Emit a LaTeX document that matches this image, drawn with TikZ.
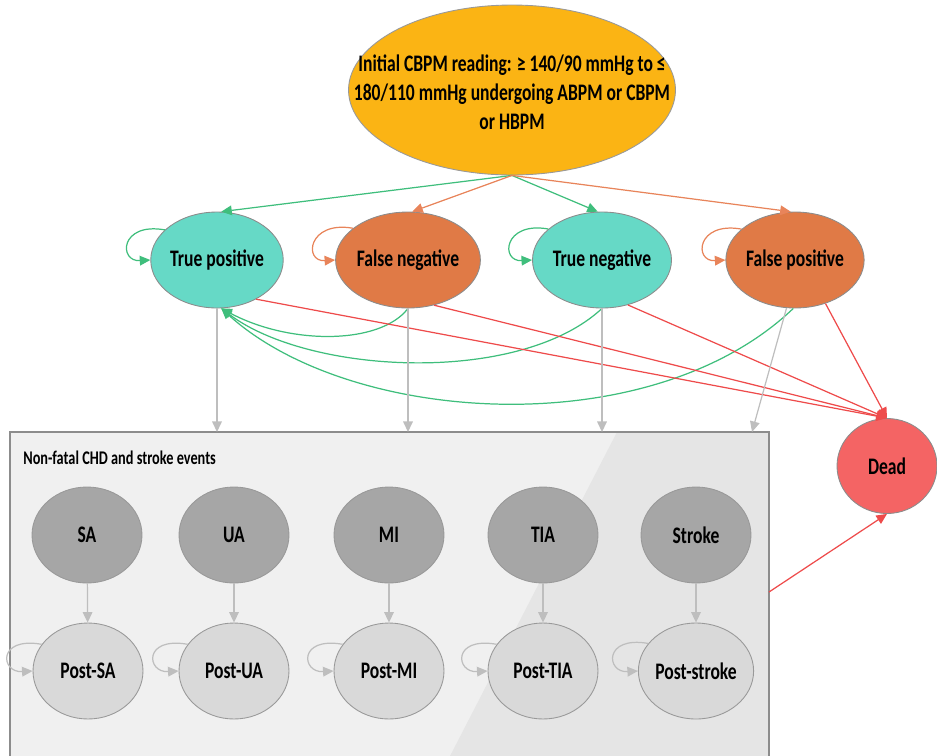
\documentclass[tikz,border=0pt]{standalone}
\usepackage{fontspec}
\setmainfont{Carlito}[FakeStretch=0.74]
\usetikzlibrary{shapes.geometric,arrows.meta}
\definecolor{initfill}{HTML}{FBB414}
\definecolor{tealfill}{HTML}{66D9C6}
\definecolor{orngfill}{HTML}{E07A46}
\definecolor{deadfill}{HTML}{F46464}
\definecolor{grnline}{HTML}{3FBE7C}
\definecolor{orgline}{HTML}{E8845A}
\definecolor{redline}{HTML}{EE4B4B}
\definecolor{gryline}{HTML}{BEBEBE}
\newcommand{\lblfont}{\bfseries\fontsize{13.5}{16.5}\selectfont}

\begin{document}
\begin{tikzpicture}[x=0.02cm,y=-0.02cm,
    init/.style={ellipse,draw=black!40,line width=0.5pt,fill=initfill,minimum width=6.54cm,minimum height=3.4cm,inner sep=0pt},
    state/.style={ellipse,draw=black!45,line width=0.5pt,minimum width=2.2cm,minimum height=1.92cm,inner sep=0pt,font=\lblfont},
    event/.style={state,fill=black!35,draw=black!40},
    post/.style={state,fill=black!15,draw=black!40},
    tip/.style={-{Triangle[length=6pt,width=5.5pt]}},
    grn/.style={tip,draw=grnline,line width=0.7pt},
    org/.style={tip,draw=orgline,line width=0.7pt},
    rd/.style={tip,draw=redline,line width=0.7pt},
    gry/.style={tip,draw=gryline,line width=0.7pt}]
      \useasboundingbox (0,0) rectangle (937,755);
      % events box
      \fill[black!6] (10,432) rectangle (769,760);
      \fill[black!10] (617,432) -- (769,432) -- (769,760) -- (448,760) -- cycle;
      \draw[black!45,line width=0.6pt] (10,760) -- (10,432) -- (769,432) -- (769,760);
      \node[anchor=west,inner sep=0pt,font=\bfseries\fontsize{11}{12}\selectfont] (boxlbl) at (23,458) {Non-fatal CHD and stroke events};
      \coordinate (c1) at (217,432);
      \coordinate (c2) at (408,432);
      \coordinate (c3) at (602,432);
      \coordinate (c4) at (752,432);
      \coordinate (bx) at (769,592);

      \node[init] (init) at (512,90) {};
      \node[align=center,font=\lblfont,inner sep=0pt] (inittxt) at (512,92) {Initial CBPM reading: ≥ 140/90 mmHg to ≤\\180/110 mmHg undergoing ABPM or CBPM\\or HBPM};
      \node[state,fill=tealfill] (tp) at (217,260) {True positive};
      \node[state,fill=orngfill] (fn) at (408,260) {False negative};
      \node[state,fill=tealfill] (tn) at (602,260) {True negative};
      \node[state,fill=orngfill] (fp) at (795,260) {False positive};
      \node[state,fill=deadfill,minimum width=2.0cm,minimum height=1.9cm] (dead) at (887,466) {Dead};

      \node[event] (sa) at (87,535) {SA};
      \node[event] (ua) at (234,535) {UA};
      \node[event] (mi) at (389,535) {MI};
      \node[event] (tia) at (543,535) {TIA};
      \node[event] (stroke) at (696,535) {Stroke};
      \node[post] (psa) at (88,671) {Post-SA};
      \node[post] (pua) at (234,671) {Post-UA};
      \node[post] (pmi) at (389,671) {Post-MI};
      \node[post] (ptia) at (543,671) {Post-TIA};
      \node[post] (pstroke) at (696,671) {Post-stroke};

      \draw[grn] (init.south) -- (tp.85);
      \draw[org] (init.south) -- (fn.85);
      \draw[grn] (init.south) -- (tn.95);
      \draw[org] (init.south) -- (fp.95);

      \draw[grn] (tp.150) .. controls +(-45,-8) and +(-32,2) .. (tp.west);
      \draw[org] (fn.150) .. controls +(-45,-8) and +(-32,2) .. (fn.west);
      \draw[grn] (tn.150) .. controls +(-45,-8) and +(-32,2) .. (tn.west);
      \draw[org] (fp.150) .. controls +(-45,-8) and +(-32,2) .. (fp.west);

      \draw[grn] (fn.south) .. controls (380,345) and (290,345) .. (tp.-85);
      \draw[grn] (tn.south) .. controls (520,385) and (310,375) .. (tp.-85);
      \draw[grn] (fp.-92) .. controls (650,445) and (350,425) .. (tp.-85);

      \draw[rd] (tp.-45) -- (dead.north);
      \draw[rd] (fn.-60) -- (dead.north);
      \draw[rd] (tn.-60) -- (dead.north);
      \draw[rd] (fp.-55) -- (dead.north);
      \draw[rd] (bx) -- (dead.south);

      \draw[gry] (tp.south) -- (c1);
      \draw[gry] (fn.south) -- (c2);
      \draw[gry] (tn.south) -- (c3);
      \draw[gry] (fp.-100) -- (c4);

      \draw[gry] (sa) -- (psa);
      \draw[gry] (ua) -- (pua);
      \draw[gry] (mi) -- (pmi);
      \draw[gry] (tia) -- (ptia);
      \draw[gry] (stroke) -- (pstroke);
      \draw[gry] (psa.150) .. controls +(-45,-8) and +(-32,2) .. (psa.west);
      \draw[gry] (pua.150) .. controls +(-45,-8) and +(-32,2) .. (pua.west);
      \draw[gry] (pmi.150) .. controls +(-45,-8) and +(-32,2) .. (pmi.west);
      \draw[gry] (ptia.150) .. controls +(-45,-8) and +(-32,2) .. (ptia.west);
      \draw[gry] (pstroke.150) .. controls +(-45,-8) and +(-32,2) .. (pstroke.west);
     \end{tikzpicture}
\end{document}
